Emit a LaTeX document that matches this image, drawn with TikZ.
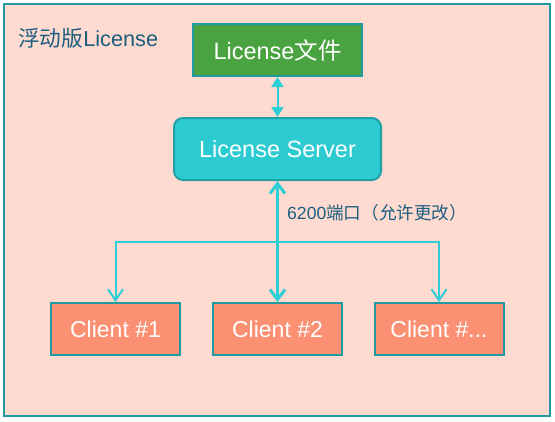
\documentclass[tikz,border=0pt]{standalone}
\usepackage{fontspec}
\setmainfont{Liberation Sans}
\newfontfamily\cjk{Noto Sans CJK SC}
\usetikzlibrary{arrows.meta}
\definecolor{bgfill}{HTML}{FFDAD0}
\definecolor{frame}{HTML}{1E9AA0}
\definecolor{txtblue}{HTML}{1B5E7E}
\definecolor{cyanfill}{HTML}{2CCBD2}
\definecolor{conn}{HTML}{2ECED5}
\definecolor{greenfill}{HTML}{4AA341}
\definecolor{clientfill}{HTML}{FC9073}
\tikzset{
  boxbase/.style={draw=frame, line width=2pt, text=white, font=\fontsize{23.5}{26}\selectfont, inner sep=0pt},
  filebox/.style={boxbase, fill=greenfill, minimum width=169pt, minimum height=52pt},
  serverbox/.style={boxbase, fill=cyanfill, draw=frame!85!cyanfill, rounded corners=9pt, minimum width=207pt, minimum height=62pt},
  clientbox/.style={boxbase, fill=clientfill, minimum width=129pt, minimum height=52pt, font=\fontsize{23}{26}\selectfont},
  thinconn/.style={draw=conn, line width=2pt, -{Straight Barb[length=11pt,width=15pt,line width=2pt]}},
  thickconn/.style={draw=conn, line width=3pt, {Straight Barb[length=10pt,width=15pt,line width=3pt]}-{Straight Barb[length=10pt,width=15pt,line width=3pt]}},
  midconn/.style={draw=conn, line width=2pt, {Triangle[length=10pt,width=12pt]}-{Triangle[length=10pt,width=12pt]}},
}
\begin{document}
\begin{tikzpicture}[x=1pt,y=1pt]
\useasboundingbox (0,0) rectangle (555,-421);
\draw[frame, fill=bgfill, line width=2pt] (4,-4) rectangle (550,-416);
\node[anchor=west, text=txtblue, font=\fontsize{21.7}{24}\selectfont, inner sep=0pt] (title) at (18,-38) {{\cjk 浮动版}License};
\node[filebox] (file) at (277.5,-50) {License{\cjk 文件}};
\node[serverbox] (server) at (277.5,-149) {License Server};
\node[clientbox] (c1) at (115.5,-329) {Client \#1};
\node[clientbox] (c2) at (277.5,-329) {Client \#2};
\node[clientbox] (c3) at (439,-329) {Client \#...};
\draw[midconn] (file.south) -- (server.north);
\draw[thickconn] (server.south) -- (c2.north);
\coordinate (j) at (277.5,-241.5);
\draw[thinconn] (j) -| (c1.north);
\draw[thinconn] (j) -| (c3.north);
\node[anchor=west, text=txtblue, font=\fontsize{17.6}{20}\selectfont, inner sep=0pt] (lbl) at (287,-213) {6200{\cjk 端口（允许更改）}};
\end{tikzpicture}
\end{document}
